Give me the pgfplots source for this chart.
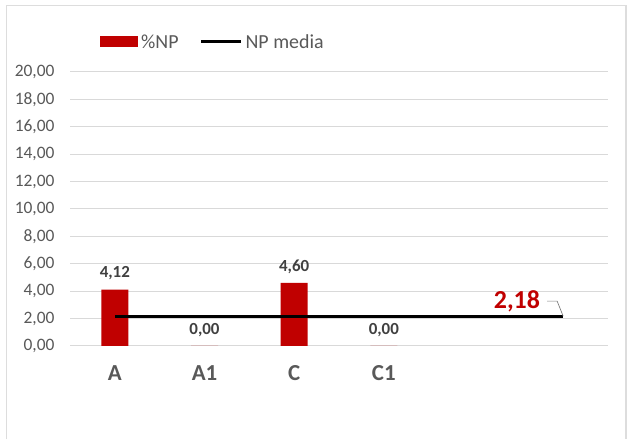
\documentclass[border=0pt]{standalone}
\usepackage{pgfplots}
\pgfplotsset{compat=1.18}
\usepackage{fontspec}
\setmainfont{Carlito}
\definecolor{barred}{HTML}{C00000}
\definecolor{gridgray}{HTML}{D9D9D9}
\definecolor{ticklab}{HTML}{595959}
\definecolor{datalab}{HTML}{404040}
\definecolor{framegray}{HTML}{DDDDDD}
\begin{document}
\begin{tikzpicture}
\fill[white] (0,0) rectangle (627bp,439bp);
\draw[framegray, line width=1.5bp] (6.5bp,0) -- (6.5bp,433.5bp) -- (626bp,433.5bp) -- (626bp,0);
\begin{axis}[
  at={(70bp,93bp)}, anchor=south west,
  scale only axis, width=538bp, height=274bp,
  xmin=-0.5, xmax=5.5, ymin=0, ymax=20,
  ytick={0,2,...,20},
  xtick={0,1,2,3},
  xticklabels={A,A1,C,C1},
  axis line style={draw=none},
  major tick length=0pt,
  ymajorgrids, grid style={gridgray, line width=1bp},
  /pgf/number format/.cd, fixed, fixed zerofill, precision=2, use comma, assume math mode=true,
  /pgfplots/.cd,
  yticklabel style={font=\fontsize{17.5}{19}\selectfont, text=ticklab, xshift=-12bp},
  xticklabel style={font=\bfseries\fontsize{23}{26}\selectfont, text=ticklab, yshift=-16bp},
  legend style={draw=none, fill=none, at={(rel axis cs:0.0502,1.1095)}, anchor=west,
    nodes={inner sep=0pt, font=\fontsize{20}{22}\selectfont, text=ticklab},
    /tikz/every odd column/.append style={column sep=3bp},
    /tikz/every even column/.append style={column sep=21bp}},
  legend columns=2,
]
\addplot[ybar, bar width=27bp, fill=barred, draw=none, bar shift=0pt,
  nodes near coords, every node near coord/.append style={font=\bfseries\fontsize{17}{19}\selectfont, text=datalab, yshift=6bp},
  legend image code/.code={\fill[barred] (0bp,-5.5bp) rectangle (38bp,5.5bp);}]
  coordinates {(0,4.12) (1,0) (2,4.60) (3,0)};
\addlegendentry{\%NP}
\addplot[black, line width=3.2bp, mark=none,
  legend image code/.code={\draw[black, line width=3bp] (0bp,0bp) -- (40bp,0bp);}]
  coordinates {(0,2.18) (5,2.18)};
\addlegendentry{NP media}
\draw[gray, line width=0.7bp] (axis cs:5,2.18) -- ++(-6bp,15bp) -- ++(-10bp,0bp);
\node[anchor=east, inner sep=0pt, text=barred, font=\bfseries\fontsize{26}{29}\selectfont] at ([xshift=-23bp,yshift=15bp]axis cs:5,2.18) {2,18};
\end{axis}
\end{tikzpicture}
\end{document}
